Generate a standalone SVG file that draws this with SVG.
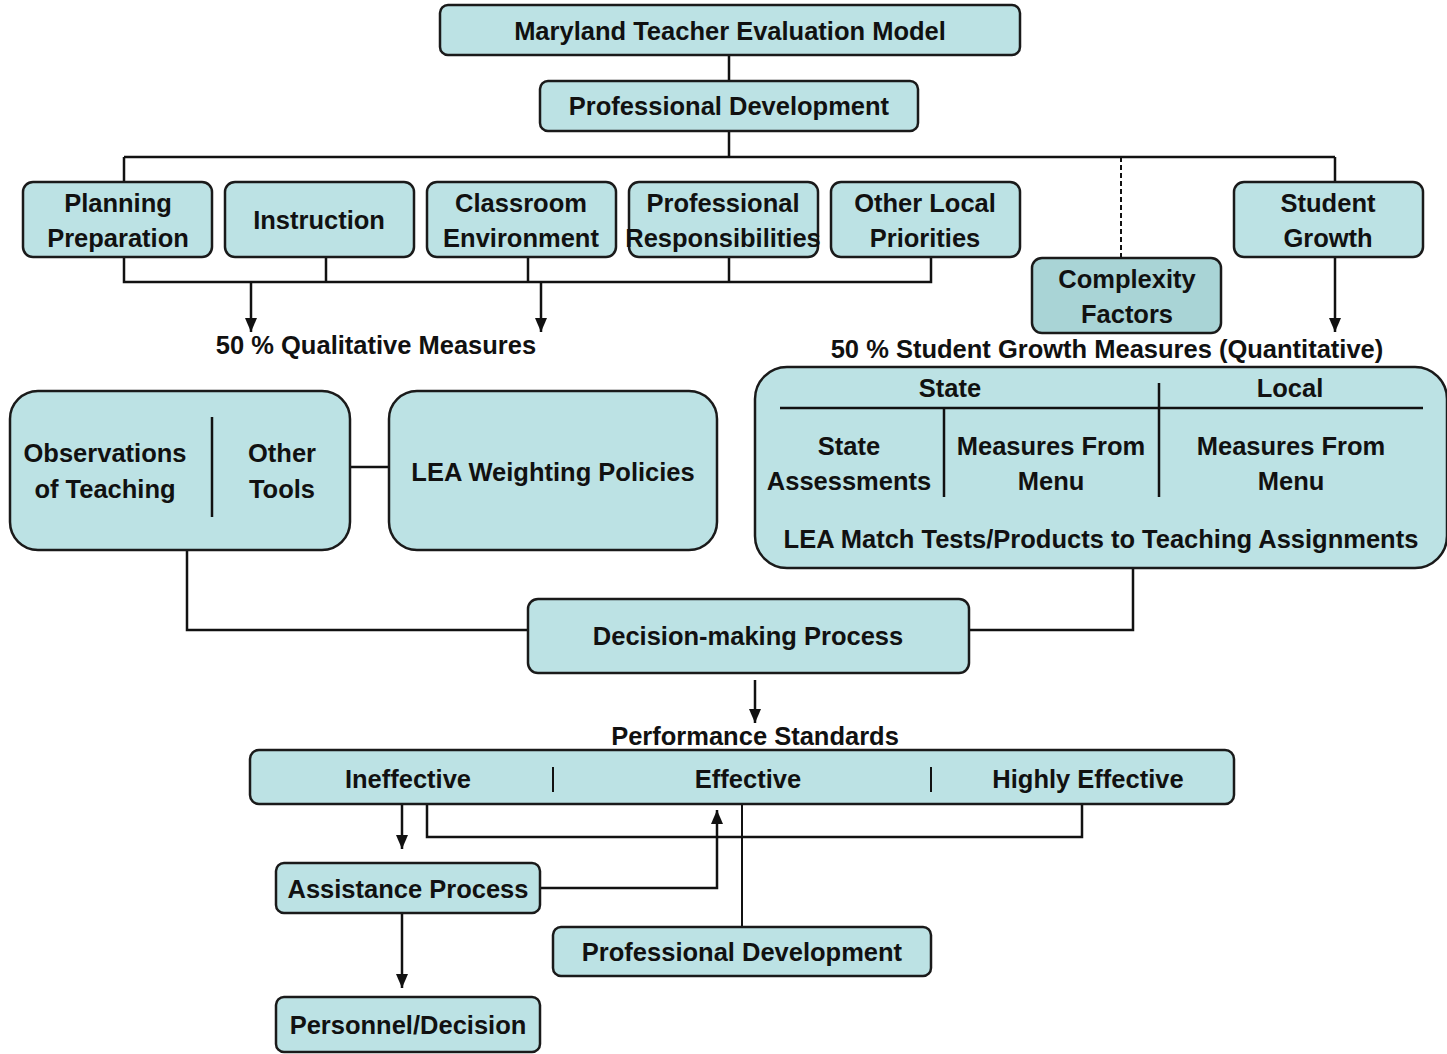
<svg xmlns="http://www.w3.org/2000/svg" width="1447" height="1054" viewBox="0 0 1447 1054">
<defs>
<marker id="ah" markerUnits="userSpaceOnUse" markerWidth="14" markerHeight="12" refX="14" refY="6" orient="auto" viewBox="0 0 14 12">
<path d="M0,0 L14,6 L0,12 Z" fill="#111"/>
</marker>
<style>
.box{fill:#bce2e4;stroke:#1a1a1a;stroke-width:2.5}
.cx{fill:#a9d4d6;stroke:#1a1a1a;stroke-width:2.5}
.t{font-family:"Liberation Sans",Arial,sans-serif;font-weight:bold;font-size:25.5px;fill:#111;text-anchor:middle}
.ln{fill:none;stroke:#111;stroke-width:2.5}
.thin{fill:none;stroke:#111;stroke-width:2}
.dash{fill:none;stroke:#111;stroke-width:2;stroke-dasharray:5,3}
.arr{fill:none;stroke:#111;stroke-width:2.5;marker-end:url(#ah)}
</style>
</defs>
<rect width="1447" height="1054" fill="#fff"/>

<g id="connectors">
<path class="ln" d="M729,55 V81 M729,131 V157 M124,157 H1335 M124,157 V182 M1335,157 V182"/>
<path class="dash" d="M1121,157 V258"/>
<path class="ln" d="M124,257 V282 H931 V257 M326,257 V282 M528,257 V282 M729,257 V282"/>
<path class="arr" d="M251,282 V332"/>
<path class="arr" d="M541,282 V332"/>
<path class="arr" d="M1335,257 V332"/>
<path class="ln" d="M350,467 H389"/>
<path class="ln" d="M187,550 V630 H528"/>
<path class="ln" d="M969,630 H1133 V568"/>
<path class="arr" d="M755,680 V723"/>
<path class="arr" d="M402,804 V849"/>
<path class="ln" d="M427,804 V837 H1082 V804"/>
<path class="thin" d="M742,804 V927"/>
<path class="arr" d="M540,888 H717 V810"/>
<path class="arr" d="M402,913 V988"/>
</g>

<g id="n-model"><rect class="box" x="440" y="5" width="580" height="50" rx="8"/><text class="t" x="730" y="40">Maryland Teacher Evaluation Model</text></g>
<g id="n-profdev"><rect class="box" x="540" y="81" width="378" height="50" rx="8"/><text class="t" x="729" y="115">Professional Development</text></g>
<g id="n-planning"><rect class="box" x="23" y="182" width="189" height="75" rx="10"/><text class="t" x="118" y="212">Planning</text><text class="t" x="118" y="247">Preparation</text></g>
<g id="n-instruction"><rect class="box" x="225" y="182" width="189" height="75" rx="10"/><text class="t" x="319" y="229">Instruction</text></g>
<g id="n-classroom"><rect class="box" x="427" y="182" width="189" height="75" rx="10"/><text class="t" x="521" y="212">Classroom</text><text class="t" x="521" y="247">Environment</text></g>
<g id="n-profresp"><rect class="box" x="629" y="182" width="189" height="75" rx="10"/><text class="t" x="723" y="212">Professional</text><text class="t" x="723" y="247">Responsibilities</text></g>
<g id="n-otherlocal"><rect class="box" x="831" y="182" width="189" height="75" rx="10"/><text class="t" x="925" y="212">Other Local</text><text class="t" x="925" y="247">Priorities</text></g>
<g id="n-complexity"><rect class="cx" x="1032" y="258" width="189" height="75" rx="10"/><text class="t" x="1127" y="288">Complexity</text><text class="t" x="1127" y="323">Factors</text></g>
<g id="n-studentgrowth"><rect class="box" x="1234" y="182" width="189" height="75" rx="10"/><text class="t" x="1328" y="212">Student</text><text class="t" x="1328" y="247">Growth</text></g>

<g id="l-qual"><text class="t" x="376" y="354">50 % Qualitative Measures</text></g>
<g id="l-quant"><text class="t" x="1107" y="358">50 % Student Growth Measures (Quantitative)</text></g>

<g id="n-measures">
<rect class="box" x="755" y="367" width="692" height="201" rx="32"/>
<path class="ln" d="M780,408 H1423 M1159,383 V497 M944,408 V497"/>
<text class="t" x="950" y="397">State</text>
<text class="t" x="1290" y="397">Local</text>
<text class="t" x="849" y="455">State</text><text class="t" x="849" y="490">Assessments</text>
<text class="t" x="1051" y="455">Measures From</text><text class="t" x="1051" y="490">Menu</text>
<text class="t" x="1291" y="455">Measures From</text><text class="t" x="1291" y="490">Menu</text>
<text class="t" x="1101" y="548">LEA Match Tests/Products to Teaching Assignments</text>
</g>

<g id="n-observations">
<rect class="box" x="10" y="391" width="340" height="159" rx="28"/>
<path class="ln" d="M212,417 V517"/>
<text class="t" x="105" y="462">Observations</text><text class="t" x="105" y="498">of Teaching</text>
<text class="t" x="282" y="462">Other</text><text class="t" x="282" y="498">Tools</text>
</g>
<g id="n-lea"><rect class="box" x="389" y="391" width="328" height="159" rx="28"/><text class="t" x="553" y="481">LEA Weighting Policies</text></g>

<g id="n-decision"><rect class="box" x="528" y="599" width="441" height="74" rx="10"/><text class="t" x="748" y="645">Decision-making Process</text></g>

<g id="l-perf"><text class="t" x="755" y="745">Performance Standards</text></g>
<g id="n-standards">
<rect class="box" x="250" y="750" width="984" height="54" rx="9"/>
<path class="thin" d="M553,767 V792 M931,767 V792"/>
<text class="t" x="408" y="788">Ineffective</text>
<text class="t" x="748" y="788">Effective</text>
<text class="t" x="1088" y="788">Highly Effective</text>
</g>
<g id="n-assistance"><rect class="box" x="276" y="863" width="264" height="50" rx="8"/><text class="t" x="408" y="898">Assistance Process</text></g>
<g id="n-profdev2"><rect class="box" x="553" y="927" width="378" height="49" rx="8"/><text class="t" x="742" y="961">Professional Development</text></g>
<g id="n-personnel"><rect class="box" x="276" y="997" width="264" height="55" rx="8"/><text class="t" x="408" y="1034">Personnel/Decision</text></g>
</svg>
